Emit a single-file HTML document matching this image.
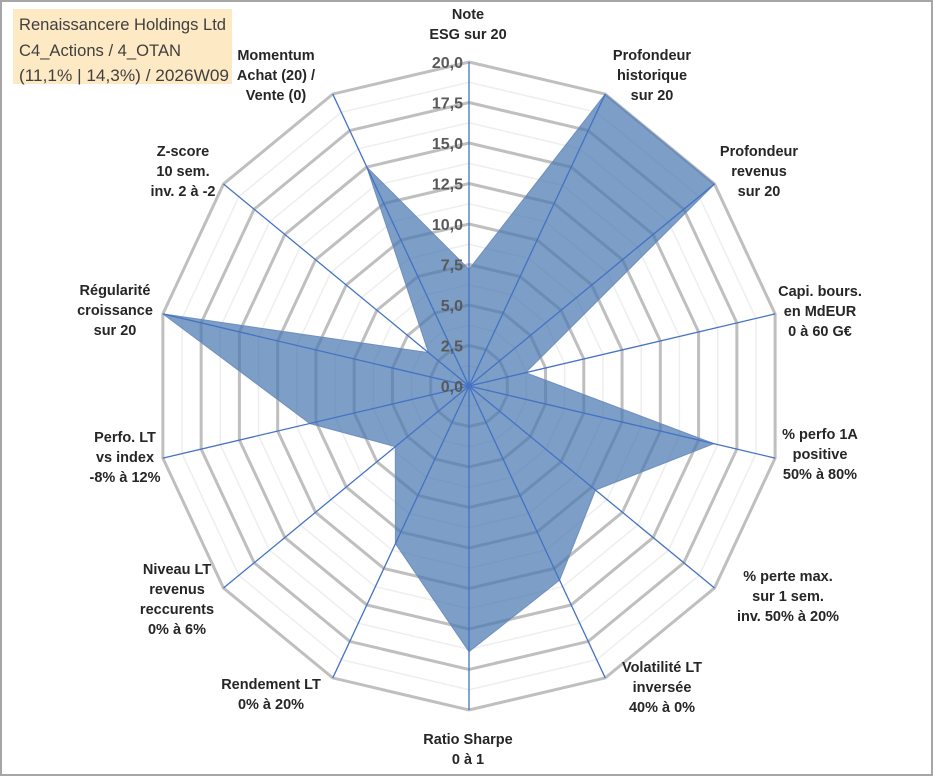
<!DOCTYPE html>
<html><head><meta charset="utf-8"><style>
body{margin:0;background:#fff;}
svg{display:block;font-family:"Liberation Sans",Arial,sans-serif;}
.lbl{font-size:14.5px;font-weight:bold;fill:#262626;text-anchor:middle;}
.tick{font-size:16px;font-weight:bold;fill:#595959;text-anchor:end;}
</style></head><body>
<svg id="chart" width="933" height="776">
<rect x="1" y="1" width="931" height="774" fill="#fff" stroke="#a6a6a6" stroke-width="2"/>
<g id="grid"></g><g id="series"></g><g id="axes"></g><g id="ticks"></g><g id="labels"></g>
<rect x="13" y="9" width="219" height="75" fill="#fde9c4"/>
<text x="19" y="30" font-size="17" fill="#404040" textLength="207" lengthAdjust="spacingAndGlyphs">Renaissancere Holdings Ltd</text>
<text x="19" y="56" font-size="17" fill="#404040" textLength="162" lengthAdjust="spacingAndGlyphs">C4_Actions / 4_OTAN</text>
<text x="19" y="81" font-size="17" fill="#404040" textLength="210" lengthAdjust="spacingAndGlyphs">(11,1% | 14,3%) / 2026W09</text>
</svg>
<script>
const categories=[["Note","ESG sur 20"],["Profondeur","historique","sur 20"],["Profondeur","revenus","sur 20"],["Capi. bours.","en MdEUR","0 à 60 G€"],["% perfo 1A","positive","50% à 80%"],["% perte max.","sur 1 sem.","inv. 50% à 20%"],["Volatilité LT","inversée","40% à 0%"],["Ratio Sharpe","0 à 1"],["Rendement LT","0% à 20%"],["Niveau LT","revenus","reccurents","0% à 6%"],["Perfo. LT","vs index","-8% à 12%"],["Régularité","croissance","sur 20"],["Z-score","10 sem.","inv. 2 à -2"],["Momentum","Achat (20) /","Vente (0)"]];
const values=[7.2,20,20,3.7,16,10.3,13.3,16.4,10.8,6.0,10.4,20,3.3,15];
const tickLabels=["0,0","2,5","5,0","7,5","10,0","12,5","15,0","17,5","20,0"];
const maxV=20;
const labelPos=[[468,19],[652,60],[759,156],[820,296],[820,439],[788,581],[662,672],[468,744],[271,689],[177,574],[125,442],[115,295],[183,156],[276,60]];
const cx=469,cy=386,Rx=314,Ry=324,N=categories.length;
const NS="http://www.w3.org/2000/svg";
function ang(i){return i*2*Math.PI/N;}
function pt(i,v){const f=v/maxV;return [cx+f*Rx*Math.sin(ang(i)),cy-f*Ry*Math.cos(ang(i))];}
function mk(tag,attrs,parent){const e=document.createElementNS(NS,tag);for(const k in attrs)e.setAttribute(k,attrs[k]);parent.appendChild(e);return e;}
const grid=document.getElementById('grid');
for(let k=1;k<=16;k++){const v=k*1.25;const pts=[];for(let i=0;i<N;i++)pts.push(pt(i,v).join(','));
const major=k%2===0;
const p=mk('polygon',{points:pts.join(' '),fill:'none',stroke:major?'#bfbfbf':'#eeeeee','stroke-width':major?3:1.5},grid);

}
const ser=document.getElementById('series');
const poly=mk('polygon',{points:values.map((v,i)=>pt(i,v).join(',')).join(' '),fill:'#4a78b2','fill-opacity':0.72,stroke:'#6f8fbf','stroke-width':1},ser);


const axes=document.getElementById('axes');
for(let i=0;i<N;i++){const [x,y]=pt(i,maxV);const l=mk('line',{x1:cx,y1:cy,x2:x,y2:y,stroke:'#4472c4','stroke-width':1.3},axes);

}
const ticks=document.getElementById('ticks');
tickLabels.forEach((t,k)=>{const y=cy-k*2.5/maxV*Ry;const e=mk('text',{x:cx-6,y:y+6,class:'tick'},ticks);e.textContent=t;

});
const labels=document.getElementById('labels');
categories.forEach((c,i)=>{const [x,y]=labelPos[i];const t=mk('text',{x:x,y:y,class:'lbl'},labels);


c.forEach((s,j)=>{const ts=mk('tspan',{x:x,dy:j===0?0:20},t);ts.textContent=s;});});
</script>
</body></html>
